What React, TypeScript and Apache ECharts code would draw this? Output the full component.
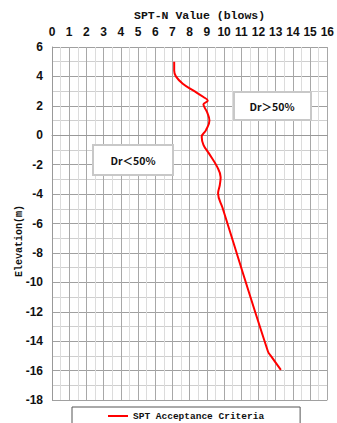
import React, { useEffect, useRef } from "react";
import * as echarts from "echarts";

const sptN: number[] = [7.1, 7.1, 7.2, 7.6, 8.2, 8.8, 9.05, 8.8, 9.0, 9.15, 8.95, 8.7, 8.8, 9.1, 9.6, 9.8, 9.75, 9.65, 9.9, 12.55, 12.75, 13.3];
const elevation: number[] = [5.0, 4.4, 4.0, 3.5, 3.05, 2.6, 2.35, 2.1, 1.6, 1.0, 0.35, -0.1, -0.65, -1.2, -2.15, -2.85, -3.4, -3.95, -4.9, -14.7, -15.05, -15.95];
const seriesName = "SPT Acceptance Criteria";
const titleText = "SPT-N Value (blows)";
const yTitle = "Elevation(m)";
const noteLow = "Dr＜50%";
const noteHigh = "Dr＞50%";

export default function App() {
  const ref = useRef<HTMLDivElement>(null);
  useEffect(() => {
    if (!ref.current) return;
    const chart = echarts.init(ref.current, null, { renderer: "svg" });
    const data = sptN.map((v, i) => [v, elevation[i]]);
    const boxStyle = { fill: "#ffffff", stroke: "#c8c8c8", lineWidth: 2 };
    const noteFont = { fontSize: 10.5, fontWeight: "bold", fontFamily: "'Noto Sans CJK SC', 'Liberation Sans', sans-serif", fill: "#111" };
    chart.setOption({
      animation: false,
      backgroundColor: "#fff",
      title: {
        text: titleText,
        left: 129,
        top: 4,
        textStyle: { fontSize: 11.5, fontWeight: "bold", fontFamily: "'Liberation Mono', monospace", color: "#111" },
      },
      grid: { left: 52, top: 47, right: 3, bottom: 23, containLabel: false },
      xAxis: {
        type: "value",
        position: "top",
        min: 0,
        max: 16,
        interval: 1,
        axisLine: { show: true, lineStyle: { color: "#999", width: 1 } },
        axisTick: { show: false },
        axisLabel: { margin: 9, fontSize: 12, fontWeight: "bold", fontFamily: "'Liberation Sans', Arial, sans-serif", color: "#111" },
        splitLine: { show: true, lineStyle: { color: "#a8a8a8", width: 1 } },
        minorTick: { show: false, splitNumber: 2 },
        minorSplitLine: { show: true, lineStyle: { color: "#dcdcdc", width: 1 } },
      },
      yAxis: {
        type: "value",
        min: -18,
        max: 6,
        interval: 2,
        axisLine: { show: true, lineStyle: { color: "#999", width: 1 } },
        axisTick: { show: false },
        axisLabel: { margin: 9, fontSize: 12, fontWeight: "bold", fontFamily: "'Liberation Sans', Arial, sans-serif", color: "#111" },
        splitLine: { show: true, lineStyle: { color: "#a0a0a0", width: 1 } },
        minorTick: { show: false, splitNumber: 2 },
        minorSplitLine: { show: true, lineStyle: { color: "#cfcfcf", width: 1 } },
      },
      legend: {
        data: [seriesName],
        left: 72,
        top: 407,
        width: 214,
        padding: [4, 36, 12, 36],
        borderColor: "#555",
        borderWidth: 1,
        backgroundColor: "#fff",
        icon: "rect",
        itemWidth: 20,
        itemHeight: 2,
        itemGap: 2,
        textStyle: { fontSize: 9.5, fontWeight: "bold", fontFamily: "'Liberation Mono', monospace", color: "#111", padding: [0, 0, 0, 0] },
      },
      graphic: [
        {
          type: "text",
          rotation: Math.PI / 2,
          z: 100,
          style: { text: yTitle, fontSize: 10, fontWeight: "bold", fontFamily: "'Liberation Mono', monospace", fill: "#111", x: 0, y: 0 },
          x: 14,
          y: 277,
        },
        { type: "rect", z: 100, shape: { x: 93, y: 145, width: 80, height: 30 }, style: boxStyle },
        { type: "text", z: 101, x: 133, y: 160, style: { ...noteFont, text: noteLow, align: "center", verticalAlign: "middle" } },
        { type: "rect", z: 100, shape: { x: 234, y: 92, width: 77, height: 28 }, style: boxStyle },
        { type: "text", z: 101, x: 272, y: 106, style: { ...noteFont, text: noteHigh, align: "center", verticalAlign: "middle" } },
      ],
      series: [
        {
          name: seriesName,
          type: "line",
          data,
          smooth: 0.4,
          showSymbol: false,
          symbol: "none",
          lineStyle: { color: "#ff0000", width: 2 },
          itemStyle: { color: "#ff0000" },
        },
      ],
    });
    return () => chart.dispose();
  }, []);
  return <div ref={ref} style={{ position: "fixed", left: 0, top: 0, width: 337, height: 423 }} />;
}
